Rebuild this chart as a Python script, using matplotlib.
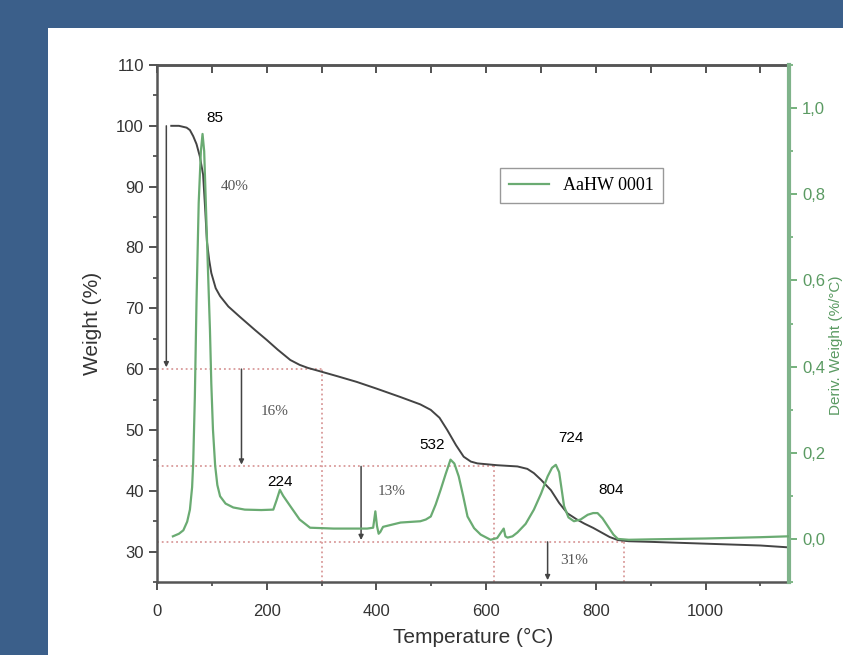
import matplotlib
matplotlib.use("Agg")
import matplotlib.pyplot as plt
from matplotlib.ticker import MultipleLocator, FuncFormatter
from matplotlib.patches import Rectangle
from matplotlib.lines import Line2D

# ---- data ----
tga_temp = [26, 40, 54, 60, 66, 72, 78, 84, 88, 91, 95, 99, 107, 115, 130, 151,
            179, 200, 220, 243, 260, 275, 291, 330, 364, 400, 444, 480, 499, 515, 529, 545,
            559, 572, 584, 620, 657, 675, 687, 700, 718, 733, 748, 765, 779, 795,
            809, 825, 840, 860, 900, 1000, 1100, 1150]
tga_weight = [100, 100, 99.7, 99.3, 98.3, 97, 95, 92, 86, 81, 78, 75.8, 73.3, 72,
              70.3, 68.6, 66.4, 64.8, 63.2, 61.5, 60.7, 60.2, 59.8, 58.8, 57.9, 56.8, 55.4, 54.2,
              53.3, 52, 50, 47.5, 45.6, 44.8, 44.5, 44.2, 44, 43.6, 42.9, 41.8,
              40.1, 38, 36.3, 35.3, 34.6, 33.9, 33.2, 32.4, 31.9, 31.7, 31.6, 31.3,
              31.0, 30.7]

dtg_temp = [29, 40, 48, 55, 60, 64, 66, 69, 72, 76, 80, 83, 86, 89, 93, 96.5, 99,
            102, 106, 110, 115, 125, 139, 160, 190, 212, 218, 224, 230, 243, 260,
            279, 322, 383, 394, 398, 401, 404, 407, 412, 444, 480, 490, 499, 508,
            517, 526, 535, 542, 550, 558, 566, 578, 590, 608, 620, 627, 632, 635,
            639, 648, 657, 672, 687, 700, 712, 720, 727, 733, 737, 742, 750, 760,
            772, 785, 795, 803, 812, 822, 832, 840, 860, 900, 1000, 1100, 1150]
dtg_value = [0.006, 0.012, 0.02, 0.04, 0.068, 0.12, 0.177, 0.33, 0.55, 0.78, 0.9,
             0.94, 0.9, 0.78, 0.62, 0.486, 0.36, 0.254, 0.17, 0.125, 0.099, 0.082,
             0.073, 0.068, 0.067, 0.068, 0.09, 0.114, 0.1, 0.076, 0.045, 0.026,
             0.024, 0.024, 0.026, 0.064, 0.03, 0.012, 0.016, 0.028, 0.038, 0.041,
             0.045, 0.052, 0.08, 0.114, 0.15, 0.184, 0.175, 0.145, 0.1, 0.052,
             0.025, 0.01, -0.002, 0.002, 0.015, 0.024, 0.006, 0.003, 0.006, 0.015,
             0.035, 0.068, 0.105, 0.145, 0.165, 0.172, 0.155, 0.12, 0.076, 0.05,
             0.041, 0.045, 0.056, 0.06, 0.06, 0.048, 0.029, 0.01, 0.0, -0.002,
             -0.001, 0.001, 0.004, 0.006]

# mass-loss steps: levels, temperature ends of the dotted guides, arrow temps, labels
step_levels = [100, 60, 44, 31.6]
step_end_temp = [300, 614, 851]
arrow_temp = [17, 154, 372, 712]
loss_labels = ["40%", "16%", "13%", "31%"]
peak_labels = ["85", "224", "532", "724", "804"]
legend_label = "AaHW 0001"

# ---- styling ----
BG = "#3b5f8a"
GREEN = "#6aab72"
GREEN_DARK = "#5a9a62"
BLACK = "#444444"
DOT = "#d99a9a"

plt.rcParams["font.family"] = ["Liberation Sans", "DejaVu Sans"]

fig = plt.figure(figsize=(8.43, 6.55), dpi=100, facecolor=BG)
fig.patches.append(Rectangle((48 / 843, 0), 1, 1 - 28 / 655, transform=fig.transFigure,
                             facecolor="white", edgecolor="none", zorder=-5))

W, H = 843, 655
ax = fig.add_axes([157 / W, 1 - 582 / H, (789 - 157) / W, (582 - 65) / H])
ax.set_facecolor("none")
ax.set_xlim(0, 1152)
ax.set_ylim(25, 110)

sans = ["Liberation Sans", "DejaVu Sans"]
serif = ["Liberation Serif", "DejaVu Serif"]

ax.plot(tga_temp, tga_weight, color=BLACK, lw=1.4, zorder=5)

# dotted guides
ax.hlines(step_levels[1], 0, step_end_temp[0], colors=DOT, linestyles=":", lw=1.3)
ax.hlines(step_levels[2], 0, step_end_temp[1], colors=DOT, linestyles=":", lw=1.3)
ax.hlines(step_levels[3], 0, step_end_temp[2], colors=DOT, linestyles=":", lw=1.3)
for t, lv in zip(step_end_temp, step_levels[1:]):
    ax.vlines(t, 25, lv, colors=DOT, linestyles=":", lw=1.3)

# arrows
ends = [step_levels[1], step_levels[2], step_levels[3], 25]
starts = [step_levels[0], step_levels[1], step_levels[2], step_levels[3]]
for t, s, e in zip(arrow_temp, starts, ends):
    ax.annotate("", xy=(t, e + 0.3), xytext=(t, s),
                arrowprops=dict(arrowstyle="-|>", color=BLACK, lw=1.1,
                                mutation_scale=7, shrinkA=0, shrinkB=0))

# text labels
ax.text(105, 101.3, peak_labels[0], fontsize=11, family=sans, ha="center", va="center")
ax.text(224, 41.5, peak_labels[1], fontsize=11, family=sans, ha="center", va="center")
ax.text(502, 47.5, peak_labels[2], fontsize=11, family=sans, ha="center", va="center")
ax.text(755, 48.6, peak_labels[3], fontsize=11, family=sans, ha="center", va="center")
ax.text(828, 40.1, peak_labels[4], fontsize=11, family=sans, ha="center", va="center")
ax.text(142, 90, loss_labels[0], fontsize=11, family=serif, ha="center", va="center", color="#555")
ax.text(215, 53, loss_labels[1], fontsize=11, family=serif, ha="center", va="center", color="#555")
ax.text(428, 39.8, loss_labels[2], fontsize=11, family=serif, ha="center", va="center", color="#555")
ax.text(761, 28.6, loss_labels[3], fontsize=11, family=serif, ha="center", va="center", color="#555")

# axes styling
ax.xaxis.set_major_locator(MultipleLocator(200))
ax.xaxis.set_minor_locator(MultipleLocator(100))
ax.yaxis.set_major_locator(MultipleLocator(10))
ax.yaxis.set_minor_locator(MultipleLocator(5))
ax.tick_params(axis="both", which="major", direction="out", length=6, width=1.3,
               color=BLACK, labelsize=12, labelcolor="#333")
ax.tick_params(axis="x", which="major", pad=10)
ax.tick_params(axis="both", which="minor", direction="out", length=3, width=1.2, color=BLACK)
for side in ["left", "bottom", "top"]:
    ax.spines[side].set_color("#555")
    ax.spines[side].set_linewidth(1.8)

top = ax.secondary_xaxis("top")
top.xaxis.set_major_locator(MultipleLocator(100))
top.tick_params(direction="in", length=6, width=1.3, color=BLACK, labeltop=False)
top.spines["top"].set_color("#555")
top.spines["top"].set_linewidth(1.8)

ax.set_xlabel("Temperature (°C)", fontsize=15, family=sans, color="#333", labelpad=6)
ax.set_ylabel("Weight (%)", fontsize=15, family=sans, color="#333", labelpad=10)

# right axis
ax2 = ax.twinx()
ax2.set_ylim(-0.1, 1.1)
ax2.plot(dtg_temp, dtg_value, color=GREEN, lw=1.6, zorder=4)
ax2.yaxis.set_major_locator(MultipleLocator(0.2))
ax2.yaxis.set_minor_locator(MultipleLocator(0.1))
ax2.yaxis.set_major_formatter(FuncFormatter(lambda v, p: f"{v:.1f}".replace(".", ",").replace("-0,0", "0,0")))
ax2.tick_params(axis="y", which="major", direction="out", length=6, width=1.3,
                color=GREEN, labelsize=12, labelcolor=GREEN_DARK)
ax2.tick_params(axis="y", which="minor", direction="out", length=3, width=1.2, color=GREEN)
ax2.spines["right"].set_color("#7fb38a")
ax2.spines["right"].set_linewidth(3)
for side in ["left", "bottom", "top"]:
    ax2.spines[side].set_visible(False)

fig.text(836 / W, 1 - 345 / H, "Deriv. Weight (%/°C)", rotation=90, fontsize=11,
         family=sans, color=GREEN_DARK, ha="center", va="center")

handle = Line2D([], [], color=GREEN, lw=1.6)
leg = ax.legend([handle], [legend_label], loc="upper left",
                bbox_to_anchor=(500 / W, 1 - 168 / H), bbox_transform=fig.transFigure,
                borderaxespad=0, fancybox=False, framealpha=1, edgecolor="#999",
                prop={"family": serif, "size": 13}, handlelength=2.2, borderpad=0.5)
leg.get_frame().set_linewidth(1.0)
leg.set_zorder(10)

fig.savefig("out.png", dpi=100, facecolor=BG)
